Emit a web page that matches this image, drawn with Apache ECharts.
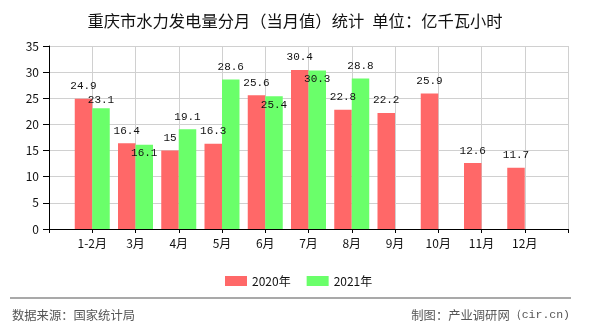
<!DOCTYPE html>
<html>
<head>
<meta charset="utf-8">
<script src="https://cdn.jsdelivr.net/npm/echarts@6/dist/echarts.min.js"></script>
<style>
html,body{margin:0;padding:0;background:#fff;}
#c{width:590px;height:330px;}
</style>
</head>
<body>
<div id="c"></div>
<script>
// ---- data ----
const categories = ['1-2月','3月','4月','5月','6月','7月','8月','9月','10月','11月','12月'];
const values2020 = [24.9, 16.4, 15, 16.3, 25.6, 30.4, 22.8, 22.2, 25.9, 12.6, 11.7];
const values2021 = [23.1, 16.1, 19.1, 28.6, 25.4, 30.3, 28.8];
const seriesNames = ['2020年', '2021年'];
const yTicks = [0, 5, 10, 15, 20, 25, 30, 35];
const titleText = '重庆市水力发电量分月（当月值）统计\u2002单位：亿千瓦小时';
const sourceText = '数据来源：国家统计局';
const makerText = '制图：产业调研网';
const makerSite = '（cir.cn)';

// padded category axis: blank slot at both ends (labels sit on ticks)
const axisCats = [''].concat(categories, ['']);
function pad(arr) {
  const out = ['-'];
  for (let i = 0; i < categories.length; i++) out.push(i < arr.length ? arr[i] : '-');
  out.push('-');
  return out;
}

const chart = echarts.init(document.getElementById('c'), null, {renderer: 'canvas'});
const FONT = '"Noto Sans CJK SC", "Noto Sans", sans-serif';
const MONO = '"Liberation Mono", "DejaVu Sans Mono", monospace';
const labelStyle = {
  show: true, position: 'top', distance: 7,
  fontFamily: MONO, fontSize: 11, color: '#111'
};

function buildOption(offsets21) {
  const d21 = pad(values2021).map(function (v, i) {
    if (v === '-' || !offsets21 || !offsets21[i]) return v;
    return {value: v, label: {offset: [0, offsets21[i]]}};
  });
  return {
    animation: false,
    textStyle: {fontFamily: FONT},
    title: {
      text: titleText, left: 'center', top: 8,
      textStyle: {fontSize: 16.3, fontWeight: 'normal', color: '#111', fontFamily: FONT}
    },
    legend: {
      data: seriesNames, left: 220, top: 270,
      itemWidth: 22, itemHeight: 10, itemGap: 16, icon: 'rect',
      textStyle: {fontSize: 12, color: '#111', fontFamily: FONT}
    },
    grid: {left: 49, right: 22, top: 46, bottom: 101, containLabel: false},
    xAxis: {
      type: 'category', data: axisCats, boundaryGap: false,
      axisLine: {lineStyle: {color: '#000', width: 1}},
      axisTick: {show: true, length: 4, lineStyle: {color: '#000'}},
      axisLabel: {color: '#111', fontSize: 12, margin: 8, interval: 0, fontFamily: FONT},
      splitLine: {show: true, lineStyle: {color: '#d0d0d0', width: 1}}
    },
    yAxis: {
      type: 'value', min: yTicks[0], max: yTicks[yTicks.length - 1],
      interval: yTicks[1] - yTicks[0],
      axisLine: {show: true, lineStyle: {color: '#000', width: 1}},
      axisTick: {show: true, length: 6, lineStyle: {color: '#000'}},
      axisLabel: {color: '#111', fontSize: 12, margin: 10, fontFamily: FONT},
      splitLine: {show: true, lineStyle: {color: '#d0d0d0', width: 1}}
    },
    series: [
      {name: seriesNames[0], type: 'bar', data: pad(values2020), barWidth: 17.5, barGap: '0%',
       itemStyle: {color: '#ff6868'}, label: labelStyle},
      {name: seriesNames[1], type: 'bar', data: d21, barWidth: 17.5, barGap: '0%',
       itemStyle: {color: '#6aff6a'}, label: labelStyle}
    ],
    graphic: [
      {type: 'line', shape: {x1: 10, y1: 298, x2: 571, y2: 298},
       style: {stroke: '#8c8c8c', lineWidth: 1.5}},
      {type: 'text', left: 12, top: 309,
       style: {text: sourceText, fontSize: 12.3, fill: '#555', fontFamily: FONT}},
      {type: 'text', right: 20, top: 309,
       style: {
         text: makerText + '{m|' + makerSite + '}', fontSize: 12.3, fill: '#555', fontFamily: FONT,
         rich: {m: {fontFamily: MONO, fontSize: 11.5, fill: '#555'}}
       }}
    ]
  };
}

chart.setOption(buildOption(null));
// label collision handling: move 2021 labels that collide with the 2020 label
const ppu = chart.convertToPixel({yAxisIndex: 0}, 0) - chart.convertToPixel({yAxisIndex: 0}, 1);
const offsets = {};
for (let i = 0; i < values2021.length; i++) {
  const diff = values2020[i] - values2021[i];
  const dpx = diff * ppu;
  if (Math.abs(diff) < 1) {
    offsets[i + 1] = 21;
  } else if (dpx > 0 && dpx < 13.6) {
    offsets[i + 1] = 13.6 - dpx;
  }
}
chart.setOption(buildOption(offsets), true);
</script>
</body>
</html>
